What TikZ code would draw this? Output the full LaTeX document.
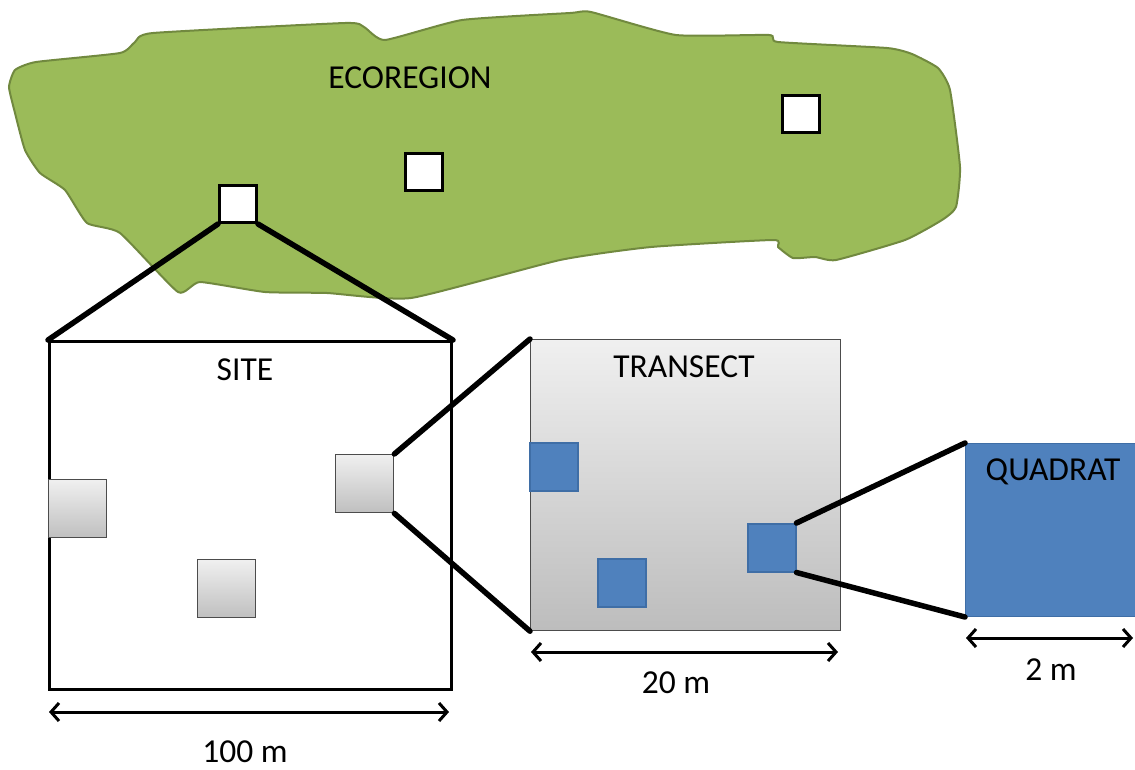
\documentclass[tikz,border=0pt]{standalone}
\usepackage{fontspec}
\setmainfont{Carlito}
\usetikzlibrary{arrows.meta}
\definecolor{eco}{HTML}{9BBB59}
\definecolor{ecoedge}{HTML}{71893F}
\definecolor{qblue}{HTML}{4F81BD}
\definecolor{qedge}{HTML}{3F6EA6}
\tikzset{
  lbl/.style={font=\fontsize{33.5}{40}\selectfont, inner sep=0pt},
  sampbox/.style={draw=black, line width=3pt, fill=white, inner sep=0pt,
    minimum width=37pt, minimum height=37pt, anchor=north west},
  greysq/.style={draw=black!70, line width=1.4pt, top color=black!6, bottom color=black!25, inner sep=0pt,
    minimum width=58pt, minimum height=58pt, anchor=north west},
  bluesq/.style={draw=qedge, line width=1.5pt, fill=qblue, inner sep=0pt,
    minimum width=48pt, minimum height=48pt, anchor=north west},
  zoomline/.style={line width=5.5pt, line cap=round},
  span/.style={line width=3pt, {Straight Barb[length=8pt, width=18pt, line width=3pt]}-{Straight Barb[length=8pt, width=18pt, line width=3pt]}}
}
\begin{document}
\begin{tikzpicture}[x=1pt, y=-1pt]
\useasboundingbox (0,0) rectangle (1135,769);

% ecoregion outline
\draw[fill=eco, draw=ecoedge, line width=2pt] plot[smooth cycle, tension=0.3] coordinates {
 (9,87) (15,70) (36,62) (120,53) (135,42) (153,33) (345,23) (364,27) (385,40)
 (462,20) (570,13) (591,12) (676,35) (769,35) (778,42) (887,48) (912,54)
 (938,68) (950,90) (960,167) (956,207) (942,220) (905,240) (836,260) (815,257)
 (793,258) (778,247) (773,240) (651,247) (560,260) (411,298) (327,293)
 (265,292) (200,282) (178,292) (120,233) (87,223) (65,190) (40,173) (25,150) (15,113)};
\node[lbl] (eco) at (410,78) {ECOREGION};

% sampled sites in the ecoregion
\node[sampbox] (s1) at (218,184) {};
\node[sampbox] (s2) at (404,152) {};
\node[sampbox] (s3) at (781,94) {};

% site
\node[draw=black, line width=3pt, fill=white, inner sep=0pt, minimum width=402pt, minimum height=348pt, anchor=north west] (site) at (48,340) {};
\node[lbl] (sitelbl) at (245,370) {SITE};
\node[greysq] (t1) at (48,479) {};
\node[greysq] (t2) at (197,559) {};
\node[greysq] (t3) at (335,454) {};
\draw[zoomline] (s1.south west) -- (site.north west);
\draw[zoomline] (s1.south east) -- (site.north east);

% transect
\node[draw=black!70, line width=1.2pt, top color=black!6, bottom color=black!26, inner sep=0pt, minimum width=310pt, minimum height=291pt, anchor=north west] (tr) at (530,339) {};
\node[lbl] (trlbl) at (684,367) {TRANSECT};
\node[bluesq] (q1) at (529,442) {};
\node[bluesq] (q2) at (597,558) {};
\node[bluesq] (q3) at (747,523) {};
\draw[zoomline] (t3.north east) -- (tr.north west);
\draw[zoomline] (t3.south east) -- (tr.south west);

% quadrat
\node[fill=qblue, draw=qedge, line width=1pt, inner sep=0pt, minimum width=175pt, minimum height=173pt, anchor=north west] (quad) at (965,443) {};
\node[lbl] (qlbl) at (1053,472) {QUADRAT};
\draw[zoomline] (q3.north east) -- (quad.north west);
\draw[zoomline] (q3.south east) -- (quad.south west);

% scale bars
\coordinate (a1) at (49,712); \coordinate (a2) at (449,712);
\draw[span] (a1) -- (a2);
\node[lbl] (d1) at (245,752) {100 m};
\coordinate (b1) at (531,652); \coordinate (b2) at (838,652);
\draw[span] (b1) -- (b2);
\node[lbl] (d2) at (676,683) {20 m};
\coordinate (c1) at (966,638); \coordinate (c2) at (1133,638);
\draw[span] (c1) -- (c2);
\node[lbl] (d3) at (1051,670) {2 m};
\end{tikzpicture}
\end{document}
